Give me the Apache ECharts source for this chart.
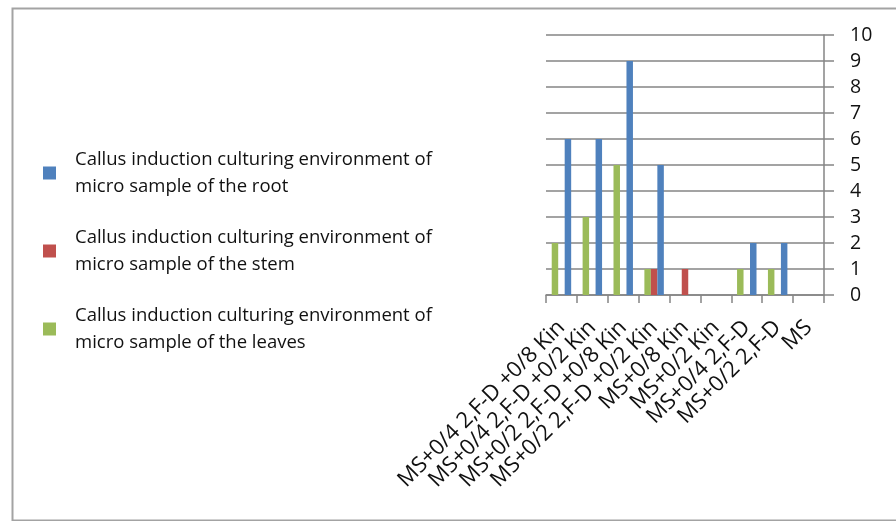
<!DOCTYPE html>
<html>
<head>
<meta charset="utf-8">
<script src="https://cdn.jsdelivr.net/npm/echarts@6/dist/echarts.min.js"></script>
<style>
  html, body { margin: 0; padding: 0; background: #ffffff; }
  #chart { width: 896px; height: 521px; }
</style>
</head>
<body>
<div id="chart"></div>
<script>
// Culture media, left to right along the category axis
const categories = [
  'MS+0/4 2,F-D +0/8 Kin',
  'MS+0/4 2,F-D +0/2 Kin',
  'MS+0/2 2,F-D +0/8 Kin',
  'MS+0/2 2,F-D +0/2 Kin',
  'MS+0/8 Kin',
  'MS+0/2 Kin',
  'MS+0/4 2,F-D',
  'MS+0/2 2,F-D',
  'MS'
];

// Callus induction counts per explant type
const rootValues   = [6, 6, 9, 5, 0, 0, 2, 2, 0];
const stemValues   = [0, 0, 0, 1, 1, 0, 0, 0, 0];
const leavesValues = [2, 3, 5, 1, 0, 0, 1, 1, 0];

const rootName   = 'Callus induction culturing environment of micro sample of the root';
const stemName   = 'Callus induction culturing environment of micro sample of the stem';
const leavesName = 'Callus induction culturing environment of micro sample of the leaves';

const yTicks = [0, 10, 1]; // min, max, interval

const FONT = '"Open Sans", sans-serif';

const chart = echarts.init(document.getElementById('chart'), null, { renderer: 'canvas' });

chart.setOption({
  animation: false,
  backgroundColor: '#ffffff',
  grid: { left: 546, right: 72, top: 35, bottom: 226, containLabel: false },
  legend: {
    orient: 'vertical',
    left: 38,
    top: 141,
    itemWidth: 13,
    itemHeight: 13,
    itemGap: 24,
    icon: 'rect',
    data: [rootName, stemName, leavesName],
    formatter: function (name) {
      const cut = name.indexOf(' micro');
      return name.slice(0, cut) + '\n' + name.slice(cut + 1);
    },
    textStyle: {
      fontFamily: FONT,
      fontSize: 18.5,
      lineHeight: 27,
      color: '#111111',
      padding: [0, 0, 0, 14]
    },
    selectedMode: false
  },
  xAxis: {
    type: 'category',
    data: categories,
    axisLine: { show: true, lineStyle: { color: '#858585', width: 1.5 } },
    axisTick: { show: true, length: 8, lineStyle: { color: '#858585', width: 1.5 } },
    axisLabel: {
      rotate: 45,
      margin: 29,
      interval: 0,
      fontFamily: FONT,
      fontSize: 22,
      color: '#111111'
    },
    splitLine: { show: false }
  },
  yAxis: {
    type: 'value',
    position: 'right',
    min: yTicks[0],
    max: yTicks[1],
    interval: yTicks[2],
    axisLine: { show: true, lineStyle: { color: '#858585', width: 1.5 } },
    axisTick: { show: true, length: 10, lineStyle: { color: '#858585', width: 1.5 } },
    axisLabel: {
      margin: 26,
      fontFamily: FONT,
      fontSize: 19.5,
      color: '#111111',
      align: 'left'
    },
    splitLine: { show: true, lineStyle: { color: '#858585', width: 1.5 } }
  },
  series: [
    {
      name: leavesName, type: 'bar', data: leavesValues,
      itemStyle: { color: '#9bbb59' },
      barGap: '0%', barCategoryGap: '37%'
    },
    {
      name: stemName, type: 'bar', data: stemValues,
      itemStyle: { color: '#c0504d' },
      barGap: '0%', barCategoryGap: '37%'
    },
    {
      name: rootName, type: 'bar', data: rootValues,
      itemStyle: { color: '#4f81bd' },
      barGap: '0%', barCategoryGap: '37%'
    }
  ],
  graphic: [
    {
      type: 'rect',
      left: 10, top: 6,
      shape: { x: 0, y: 0, width: 900, height: 512 },
      style: { fill: 'none', stroke: '#a3a3a3', lineWidth: 2 },
      silent: true
    }
  ]
});
</script>
</body>
</html>
